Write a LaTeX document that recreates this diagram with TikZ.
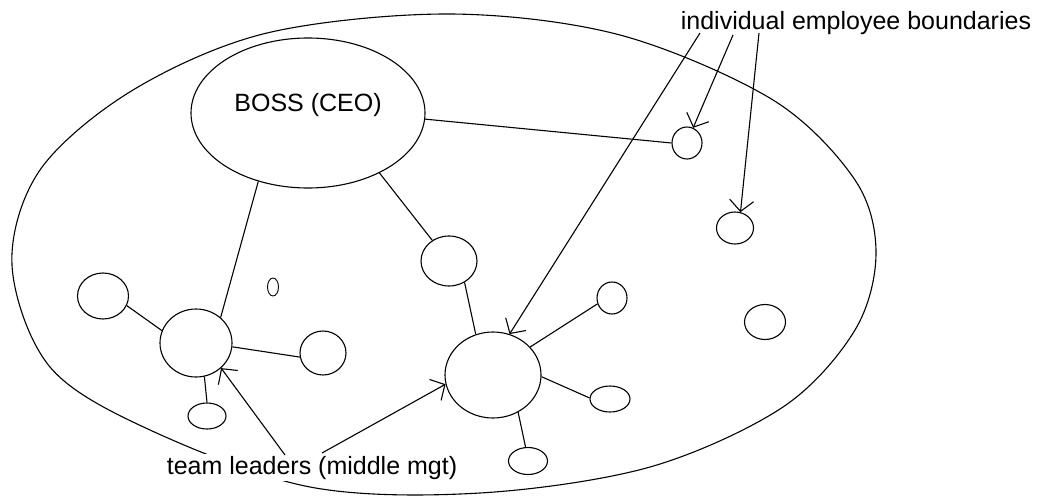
\documentclass[tikz,border=0pt]{standalone}
\usepackage{fontspec}
\setmainfont{Liberation Sans}
\usetikzlibrary{shapes.geometric,arrows.meta}
\begin{document}
\begin{tikzpicture}[x=1pt,y=-1pt,
  line width=1.1pt,
  bub/.style={draw,ellipse,inner sep=0pt},
  lbl/.style={font=\fontsize{25}{30}\selectfont,inner sep=0pt,anchor=base},
  con/.style={draw},
  arr/.style={draw,-{Straight Barb[length=11pt,width=24pt,line width=1.1pt]}}]
\useasboundingbox (0,0) rectangle (1038,495);
% big boundary
\draw plot[smooth cycle,tension=0.55] coordinates {
 (12,265) (40,170) (133,90) (267,33) (450,14) (620,35) (773,100)
 (855,180) (876,253) (855,330) (783,407) (650,467) (480,493) (310,487)
 (150,430) (50,367)};
% nodes
\node[bub,minimum width=234pt,minimum height=150pt] (boss) at (308,113) {};
\node[lbl,anchor=center] (bosst) at ([yshift=8pt]boss.center) {BOSS (CEO)};
\node[bub,minimum width=72pt,minimum height=68pt] (L1) at (196,343) {};
\node[bub,minimum width=96pt,minimum height=86pt] (L2) at (493,375) {};
\node[bub,minimum width=30pt,minimum height=32pt] (c1) at (687,143) {};
\node[bub,minimum width=37pt,minimum height=32pt] (c2) at (735,228) {};
\node[bub,minimum width=41pt,minimum height=35pt] (c3) at (765,322) {};
\node[bub,minimum width=56pt,minimum height=50pt] (c4) at (449,261) {};
\node[bub,minimum width=30pt,minimum height=32pt] (c5) at (612,298) {};
\node[bub,minimum width=40pt,minimum height=26pt] (c6) at (610,399) {};
\node[bub,minimum width=39pt,minimum height=27pt] (c7) at (528,461) {};
\node[bub,minimum width=51pt,minimum height=46pt] (c8) at (103,296) {};
\node[bub,minimum width=46pt,minimum height=44pt] (c9) at (323,353) {};
\node[bub,minimum width=38pt,minimum height=26pt] (c10) at (207,416) {};
\node[bub,line width=0.9pt,minimum width=11pt,minimum height=18pt] (tiny) at (273,287) {};
% connectors
\draw[con] (boss.234) -- (L1.46);
\draw[con] (boss.320) -- (c4.129);
\draw[con] (boss.357) -- (c1.180);
\draw[con] (L1.160) -- (c8.338);
\draw[con] (L1.354) -- (c9.190);
\draw[con] (L1.284) -- (c10.90);
\draw[con] (c4.306) -- (L2.113);
\draw[con] (c5.202) -- (L2.37);
\draw[con] (L2.358) -- (c6.177);
\draw[con] (L2.304) -- (c7.100);
% labels
\node[lbl] (top) at (856,30) {individual employee boundaries};
\node[lbl,fill=white,inner ysep=2pt] (bot) at (312,474) {team leaders (middle mgt)};
\coordinate (a1) at (700,33);
\coordinate (a2) at (733,35);
\coordinate (a3) at (759,33);
\coordinate (b1) at (285,455);
\coordinate (b2) at (322,453);
% arrows
\draw[arr] (a1) -- (L2.68);
\draw[arr] (a2) -- (c1.68);
\draw[arr] (a3) -- (c2.71);
\draw[arr] (b1) -- (L1.315);
\draw[arr] (b2) -- (L2.191);
\end{tikzpicture}
\end{document}
